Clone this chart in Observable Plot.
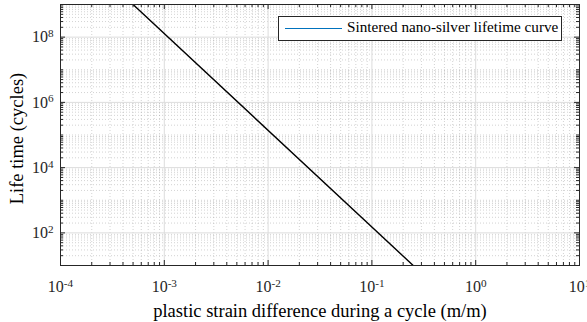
<!DOCTYPE html>
<html><head><meta charset="utf-8">
<script src="https://cdn.jsdelivr.net/npm/d3@7"></script>
<script src="https://cdn.jsdelivr.net/npm/@observablehq/plot@0.6"></script>
<style>
body{margin:0;background:#fff;}
#wrap{position:relative;width:587px;height:322px;font-family:"Liberation Serif",serif;}
#legend{position:absolute;left:278px;top:16px;width:284px;height:25px;border:1px solid #262626;background:#fff;box-sizing:border-box;}
#legend .sw{position:absolute;left:6px;top:11px;width:57px;height:0;border-top:1.5px solid #0072BD;}
#legend .tx{position:absolute;left:68px;top:1px;font-size:15.2px;color:#000;white-space:nowrap;}
</style></head>
<body><div id="wrap"><div id="chart"></div>
<div id="legend"><div class="sw"></div><div class="tx" id="legtext"></div></div></div>
<script>
// Data
const strain = [5e-4, 0.25];   // plastic strain difference (m/m)
const life = [1e9, 10];        // lifetime (cycles)
const seriesName = "Sintered nano-silver lifetime curve";

// Tick values and labels
const xMajor = [1e-4, 1e-3, 1e-2, 1e-1, 1, 10];
const xLabels = ["10^-4", "10^-3", "10^-2", "10^-1", "10^0", "10^1"];
const yMajor = [1e2, 1e4, 1e6, 1e8];
const yLabels = ["10^2", "10^4", "10^6", "10^8"];

const xMinor = [];
for (let e = -4; e < 1; e++) for (let m = 2; m <= 9; m++) xMinor.push(m * 10 ** e);
const yMinor = [];
for (let e = 1; e < 9; e++) for (let m = 1; m <= 9; m++) { const v = m * 10 ** e; if (!yMajor.includes(v)) yMinor.push(v); }
yMinor.push(1e9);

document.getElementById("legtext").textContent = seriesName;

const W = 587, H = 322, mL = 60, mR = 8, mT = 4, mB = 57;
const pw = W - mL - mR, ph = H - mT - mB;
const rows = strain.map((s, i) => ({strain: s, life: life[i]}));
const font = "Liberation Serif";
const dark = "#262626";

const chart = Plot.plot({
  width: W, height: H, marginLeft: mL, marginRight: mR, marginTop: mT, marginBottom: mB,
  style: {fontFamily: font, background: "#fff", fontSize: "16px"},
  x: {type: "log", domain: [1e-4, 10]},
  y: {type: "log", domain: [10, 1e9]},
  marks: [
    Plot.gridX(xMinor, {stroke: "#999", strokeOpacity: 0.55, strokeDasharray: "1,2", strokeWidth: 0.8}),
    Plot.gridY(yMinor, {stroke: "#999", strokeOpacity: 0.55, strokeDasharray: "1,2", strokeWidth: 0.8}),
    Plot.gridX(xMajor, {stroke: "#dcdcdc", strokeOpacity: 1, strokeWidth: 1}),
    Plot.gridY(yMajor, {stroke: "#dcdcdc", strokeOpacity: 1, strokeWidth: 1}),
    Plot.line(rows, {x: "strain", y: "life", stroke: "#000", strokeWidth: 1.4, clip: true}),
    // inside ticks, bottom & top
    Plot.tickX(xMajor, {x: d => d, insetTop: ph - 5, stroke: dark}),
    Plot.tickX(xMajor, {x: d => d, insetBottom: ph - 5, stroke: dark}),
    Plot.tickX(xMinor, {x: d => d, insetTop: ph - 3, stroke: dark}),
    Plot.tickX(xMinor, {x: d => d, insetBottom: ph - 3, stroke: dark}),
    // inside ticks, left & right
    Plot.tickY(yMajor, {y: d => d, insetRight: pw - 5, stroke: dark}),
    Plot.tickY(yMajor, {y: d => d, insetLeft: pw - 5, stroke: dark}),
    Plot.tickY(yMinor, {y: d => d, insetRight: pw - 3, stroke: dark}),
    Plot.tickY(yMinor, {y: d => d, insetLeft: pw - 3, stroke: dark}),
    Plot.frame({stroke: dark, strokeWidth: 1}),
    Plot.axisX(xMajor, {tickSize: 0, tickPadding: 15, fontSize: 16, fill: dark,
      tickFormat: d => xLabels[xMajor.indexOf(d)],
      label: "plastic strain difference during a cycle (m/m)", labelAnchor: "center", labelArrow: "none", labelOffset: 51}),
    Plot.axisY(yMajor, {tickSize: 0, tickPadding: 7, fontSize: 16, fill: dark,
      tickFormat: d => yLabels[yMajor.indexOf(d)],
      label: "Life time (cycles)", labelAnchor: "center", labelArrow: "none", labelOffset: 51})
  ]
});

// superscript exponents in tick labels
d3.select(chart).selectAll("text").each(function() {
  const t = this.textContent;
  const m = /^10\^(.+)$/.exec(t);
  if (m) {
    const sel = d3.select(this);
    sel.attr("font-size", 16);
    sel.text(null);
    sel.append("tspan").text("10");
    sel.append("tspan").attr("dy", "-0.45em").attr("font-size", "0.7em").text(m[1]);
  }
});
// axis title sizes
d3.select(chart).selectAll("text").filter(function(){ return /plastic|Life time/.test(this.textContent); })
  .attr("font-size", 18.5).attr("fill", "#000");
d3.select(chart).selectAll("text").filter(function(){ return /Life time/.test(this.textContent); })
  .attr("transform", function(){ return "translate(0,3.5) " + (this.getAttribute("transform") || ""); });

document.getElementById("chart").appendChild(chart);
</script></body></html>
